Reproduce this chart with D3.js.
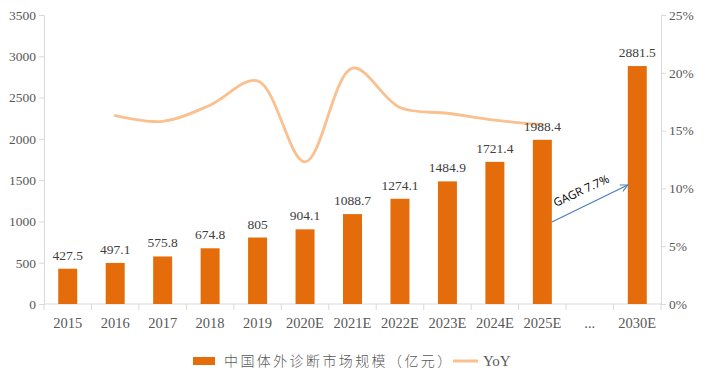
<!DOCTYPE html>
<html><head><meta charset="utf-8">
<script src="https://cdn.jsdelivr.net/npm/d3@7"></script>
<style>body{margin:0;background:#fff}svg{display:block}</style>
</head><body>
<svg id="c" width="705" height="382"></svg>
<script>
const categories = ["2015","2016","2017","2018","2019","2020E","2021E","2022E","2023E","2024E","2025E","...","2030E"];
const marketSize = [427.5,497.1,575.8,674.8,805,904.1,1088.7,1274.1,1484.9,1721.4,1988.4,null,2881.5];
const yoy = [null,16.3,15.8,17.2,19.3,12.3,20.4,17.0,16.5,15.9,15.5,null,null];
const leftTicks = [0,500,1000,1500,2000,2500,3000,3500];
const rightTicks = [0,5,10,15,20,25];
const cagrLabel = "GAGR 7.7%";
const cagrFrom = {cat:"2025E", value:993};
const cagrTo = {cat:"2030E", value:1441};

const svg = d3.select("#c");
const m = {l:44, r:661, t:15, b:304};
const x = d3.scaleBand().domain(categories).range([m.l, m.r]).paddingInner(0.6).paddingOuter(0.3);
const xb = d3.scaleBand().domain(categories).range([m.l, m.r]);
const y = d3.scaleLinear().domain([0,3500]).range([m.b, m.t]);
const y2 = d3.scaleLinear().domain([0,25]).range([m.b, m.t]);
const axisCol = "#d9d9d9", txtCol = "#595959";
const serif = "'Liberation Serif','DejaVu Serif',serif";

// left axis
const gl = svg.append("g").attr("transform",`translate(${m.l},0)`)
  .call(d3.axisLeft(y).tickValues(leftTicks).tickSize(5).tickPadding(3).tickFormat(d3.format("d")));
// right axis
const gr = svg.append("g").attr("transform",`translate(${m.r},0)`)
  .call(d3.axisRight(y2).tickValues(rightTicks).tickSize(5).tickPadding(3).tickFormat(d=>d+"%"));
// bottom axis
const gb = svg.append("g").attr("transform",`translate(0,${m.b})`)
  .call(d3.axisBottom(xb).tickSize(0).tickPadding(14));
gb.selectAll(".tick").append("line")
  .attr("x1",-xb.bandwidth()/2).attr("x2",-xb.bandwidth()/2).attr("y1",0).attr("y2",6)
  .attr("stroke",axisCol);
gb.append("line").attr("x1",m.r).attr("x2",m.r).attr("y1",0).attr("y2",6).attr("stroke",axisCol);

[gl,gr,gb].forEach(g=>{
  g.attr("font-family",serif);
  g.selectAll(".domain").attr("stroke",axisCol);
  g.selectAll(".tick line").attr("stroke",axisCol);
  g.selectAll("text").attr("fill",txtCol).attr("font-family",serif);
});
gl.attr("font-size",13.5); gl.selectAll("text").attr("font-size",13.5);
gr.attr("font-size",13.5); gr.selectAll("text").attr("font-size",13.5);
gb.attr("font-size",14.5); gb.selectAll("text").attr("font-size",14.5);
gb.select(".domain").attr("d",`M${m.l},0H${m.r}`);

// bars
const barData = categories.map((c,i)=>({c, v:marketSize[i]})).filter(d=>d.v!=null);
svg.append("g").selectAll("rect").data(barData).join("rect")
  .attr("x",d=>x(d.c)).attr("width",x.bandwidth())
  .attr("y",d=>y(d.v)).attr("height",d=>m.b - y(d.v))
  .attr("fill","#e46c0a");

// line
const lineData = categories.map((c,i)=>({c, v:yoy[i]})).filter(d=>d.v!=null);
svg.append("path").datum(lineData)
  .attr("d", d3.line().x(d=>xb(d.c)+xb.bandwidth()/2).y(d=>y2(d.v)).curve(d3.curveCatmullRom.alpha(0.5)))
  .attr("fill","none").attr("stroke","#fac090").attr("stroke-width",2.8).attr("stroke-linecap","round");

// labels
svg.append("g").selectAll("text").data(barData).join("text")
  .attr("x",d=>x(d.c)+x.bandwidth()/2).attr("y",d=>y(d.v)-9)
  .attr("text-anchor","middle").attr("fill","#404040")
  .attr("font-family",serif).attr("font-size",13.5)
  .text(d=>d.v);

// CAGR arrow
const ax1 = x(cagrFrom.cat)+x.bandwidth(), ay1 = y(cagrFrom.value);
const ax2 = x(cagrTo.cat), ay2 = y(cagrTo.value);
svg.append("defs").append("marker").attr("id","arr").attr("viewBox","0 0 10 10")
  .attr("refX",9).attr("refY",5).attr("markerWidth",9).attr("markerHeight",9).attr("orient","auto")
  .attr("markerUnits","userSpaceOnUse")
  .append("path").attr("d","M1,1 L9,5 L1,9").attr("fill","none").attr("stroke","#4a7ebb").attr("stroke-width",1.2);
svg.append("line").attr("x1",ax1).attr("y1",ay1).attr("x2",ax2).attr("y2",ay2)
  .attr("stroke","#4a7ebb").attr("stroke-width",1.2).attr("marker-end","url(#arr)");
svg.append("text").attr("transform",`translate(${ax1+4},${ay1-15}) rotate(-25)`)
  .attr("fill","#000").attr("font-family","'Open Sans','Liberation Sans',Arial,sans-serif").attr("font-size",11.5)
  .text(cagrLabel);

// legend
const lg = svg.append("g");
lg.append("rect").attr("x",193).attr("y",357).attr("width",22).attr("height",8).attr("fill","#e46c0a");
lg.append("text").attr("x",224).attr("y",366).attr("fill",txtCol)
  .attr("font-family","'Noto Sans CJK SC',sans-serif").attr("font-weight",300).attr("font-size",14)
  .style("letter-spacing","2.4px")
  .text("中国体外诊断市场规模（亿元）");
lg.append("line").attr("x1",453).attr("x2",478).attr("y1",361).attr("y2",361).attr("stroke","#fac090").attr("stroke-width",3);
lg.append("text").attr("x",483).attr("y",366).attr("fill",txtCol)
  .attr("font-family",serif).attr("font-size",15).text("YoY");
</script>
</body></html>
